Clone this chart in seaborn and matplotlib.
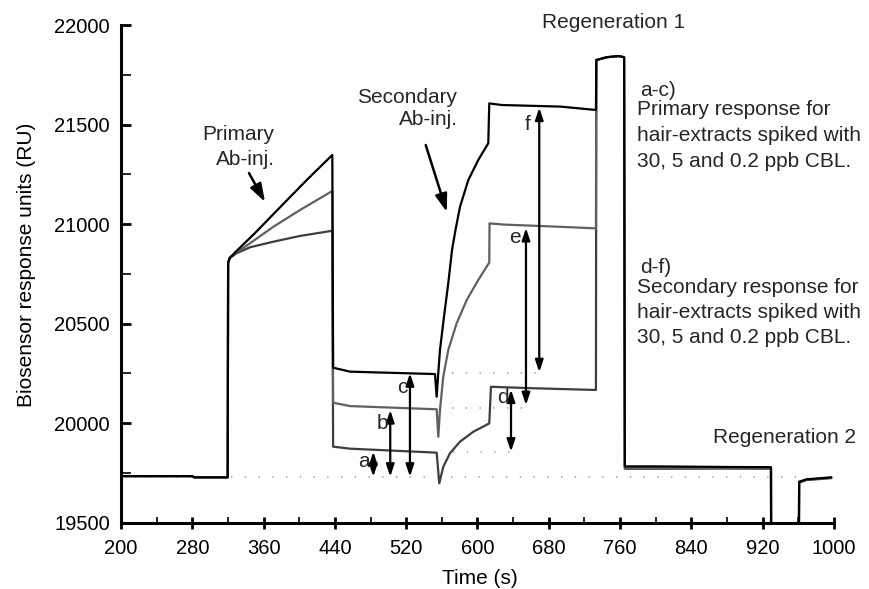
import matplotlib
matplotlib.use("Agg")
import matplotlib.pyplot as plt
import numpy as np
import pandas as pd
import seaborn as sns

# ---------------- data ----------------
# high concentration trace (black)
t_high = [200, 280, 282, 319.7, 320.2, 322, 330, 350, 370, 390, 410, 437.1,
          438, 457, 552.3, 554.2, 556.0, 557.9, 562.4, 567.2, 571.4, 575.3,
          580.4, 589.7, 600.9, 612.1, 613.2, 627, 693, 732.9,
          733.3, 745, 758, 764.5, 765.3, 800, 880, 929.3,
          929.5, 960.5, 960.9, 969, 997]
v_high = [19733, 19733, 19727, 19727, 20805, 20830, 20866, 20953, 21045, 21137, 21228, 21347,
          20278, 20258, 20246, 20132, 20251, 20367, 20534, 20702, 20869, 20970,
          21087, 21221, 21322, 21406, 21606, 21598, 21590, 21573,
          21824, 21838, 21844, 21838, 19782, 19782, 19779, 19778,
          19300, 19300, 19705, 19717, 19727]

# middle concentration trace (gray)
t_mid = [200, 280, 282, 319.7, 320.2, 322, 330, 344.7, 370.9, 400.8, 437.1,
         438, 457, 554.2, 556.0, 557.9, 561.6, 567.2, 576.6, 587.9, 600.9, 613.2,
         613.5, 630, 693, 732.9,
         733.3, 745, 758, 764.5, 765.3, 800, 880, 929.3,
         929.5, 960.5, 960.9, 969, 997]
v_mid = [19733, 19733, 19727, 19727, 20805, 20830, 20858, 20903, 20986, 21070, 21166,
         20102, 20085, 20069, 19931, 20065, 20233, 20367, 20501, 20618, 20719, 20806,
         21003, 20997, 20986, 20978,
         21824, 21838, 21844, 21838, 19774, 19774, 19773, 19772,
         19300, 19300, 19703, 19715, 19725]

# low concentration trace (dark gray)
t_low = [200, 280, 282, 319.7, 320.2, 322, 329.8, 344.7, 370.9, 400.8, 437.1,
         438, 457, 554.2, 557.1, 561.6, 569.1, 580.3, 595.3, 613.2,
         615.1, 660, 700, 732.9,
         733.3, 745, 758, 764.5, 765.3, 800, 880, 929.3,
         929.5, 960.5, 960.9, 969, 997]
v_low = [19733, 19733, 19727, 19727, 20805, 20828, 20853, 20883, 20911, 20940, 20966,
         19881, 19871, 19851, 19697, 19780, 19848, 19906, 19956, 19998,
         20182, 20175, 20170, 20166,
         21824, 21838, 21844, 21838, 19770, 19770, 19771, 19770,
         19300, 19300, 19700, 19713, 19723]

# dotted reference levels: (value, start, end)
ref_values = [19727, 20253, 20077, 19856]
ref_start = [200, 571, 571, 572]
ref_end = [958, 668, 652, 636]

# response arrows a-f
arrow_names = ["a", "b", "c", "d", "e", "f"]
arrow_t = [483.1, 502.1, 524.2, 637.6, 654.4, 669.3]
arrow_top = [19856, 20065, 20250, 20168, 20980, 21585]
arrow_bottom = [19730, 19730, 19730, 19856, 20090, 20255]
label_right_t = [479.0, 499.5, 521.0, 634.6, 648.0, 659.5]
label_v = [19777, 19968, 20149, 20099, 20903, 21472]

# axis ticks
x_major = [200, 280, 360, 440, 520, 600, 680, 760, 840, 920, 1000]
x_minor = [240, 320, 400, 480, 560, 640, 720, 800, 880, 960]
y_major = [19500, 20000, 20500, 21000, 21500, 22000]
y_minor = [19750, 20250, 20750, 21250, 21750]

# ---------------- styling ----------------
sns.set_theme(style="ticks")
plt.rcParams["font.family"] = ["Liberation Sans", "DejaVu Sans"]

fig = plt.figure(figsize=(8.69, 5.89), dpi=100)
ax = fig.add_axes([0.13924, 0.11290, 0.82048, 0.84465])

traces = [
    ("low", t_low, v_low, "#3e3e3e"),
    ("mid", t_mid, v_mid, "#606060"),
    ("high", t_high, v_high, "#000000"),
]
for name, tt, vv, col in traces:
    df = pd.DataFrame({"time": tt, "response": vv})
    sns.lineplot(data=df, x="time", y="response", ax=ax, color=col,
                 lw=1.6, estimator=None, sort=False, errorbar=None,
                 legend=False)

for val, s, e in zip(ref_values, ref_start, ref_end):
    ax.plot([s, e], [val, val], color="#9a9a9a", lw=1.1,
            linestyle=(0, (0.9, 8.1)), zorder=1)

for t, top, bot in zip(arrow_t, arrow_top, arrow_bottom):
    ax.annotate("", xy=(t, top), xytext=(t, bot),
                arrowprops=dict(arrowstyle="<|-|>,head_length=0.6,head_width=0.2",
                                lw=1.6, color="black", shrinkA=0, shrinkB=0,
                                mutation_scale=12))
for name, t, v in zip(arrow_names, label_right_t, label_v):
    ax.text(t, v, name, ha="right", va="baseline", fontsize=15)

# injection arrows
ax.annotate("", xy=(361.6, 21111), xytext=(343.6, 21256),
            arrowprops=dict(arrowstyle="-|>,head_length=0.9,head_width=0.3",
                            lw=1.8, color="black", shrinkA=0, shrinkB=0,
                            mutation_scale=12))
ax.annotate("", xy=(565.6, 21060), xytext=(541.9, 21397),
            arrowprops=dict(arrowstyle="-|>,head_length=0.9,head_width=0.3",
                            lw=1.8, color="black", shrinkA=0, shrinkB=0,
                            mutation_scale=12))

fs = 15
ax.text(371.7, 21422, "Primary", ha="right", va="baseline", fontsize=fs)
ax.text(372.8, 21296, "Ab-inj.", ha="right", va="baseline", fontsize=fs)
ax.text(576.6, 21608, "Secondary", ha="right", va="baseline", fontsize=fs)
ax.text(578.4, 21497, "Ab-inj.", ha="right", va="baseline", fontsize=fs)
ax.text(672.0, 21983, "Regeneration 1", ha="left", va="baseline", fontsize=fs)
ax.text(863.8, 19898, "Regeneration 2", ha="left", va="baseline", fontsize=fs)

ax.text(782.3, 21643, "a-c)", ha="left", va="baseline", fontsize=fs)
ax.text(779.5, 21548, "Primary response for", ha="left", va="baseline", fontsize=fs)
ax.text(779.5, 21419, "hair-extracts spiked with", ha="left", va="baseline", fontsize=fs)
ax.text(779.5, 21288, "30, 5 and 0.2 ppb CBL.", ha="left", va="baseline", fontsize=fs)
ax.text(782.3, 20752, "d-f)", ha="left", va="baseline", fontsize=fs)
ax.text(779.5, 20652, "Secondary response for", ha="left", va="baseline", fontsize=fs)
ax.text(779.5, 20526, "hair-extracts spiked with", ha="left", va="baseline", fontsize=fs)
ax.text(779.5, 20400, "30, 5 and 0.2 ppb CBL.", ha="left", va="baseline", fontsize=fs)

# axes
ax.set_xlim(200, 1000)
ax.set_ylim(19500, 22000)
ax.set_xticks(x_major, labels=[str(v) for v in x_major])
ax.set_xticks(x_minor, minor=True)
ax.set_yticks(y_major, labels=[str(v) for v in y_major])
ax.set_yticks(y_minor, minor=True)

for side in ["top", "right"]:
    ax.spines[side].set_visible(False)
for side in ["left", "bottom"]:
    ax.spines[side].set_linewidth(2.2)
    ax.spines[side].set_color("black")

ax.tick_params(axis="x", which="major", direction="inout", length=8.5, width=2.0,
               pad=7.6, labelsize=14.5, color="black", labelcolor="black")
ax.tick_params(axis="x", which="minor", direction="in", length=4.0, width=1.2,
               color="black")
ax.tick_params(axis="y", which="major", direction="in", length=7.5, width=2.0,
               pad=8.0, labelsize=14.5, color="black", labelcolor="black")
ax.tick_params(axis="y", which="minor", direction="in", length=7.0, width=1.2,
               color="black")

ax.set_xlabel("Time (s)", fontsize=15, color="black")
ax.set_ylabel("Biosensor response units (RU)", fontsize=15, color="black")
ax.xaxis.set_label_coords(0.5035, -0.0929)
ax.yaxis.set_label_coords(-0.119, 0.5176)

fig.savefig("out.png", dpi=100)
